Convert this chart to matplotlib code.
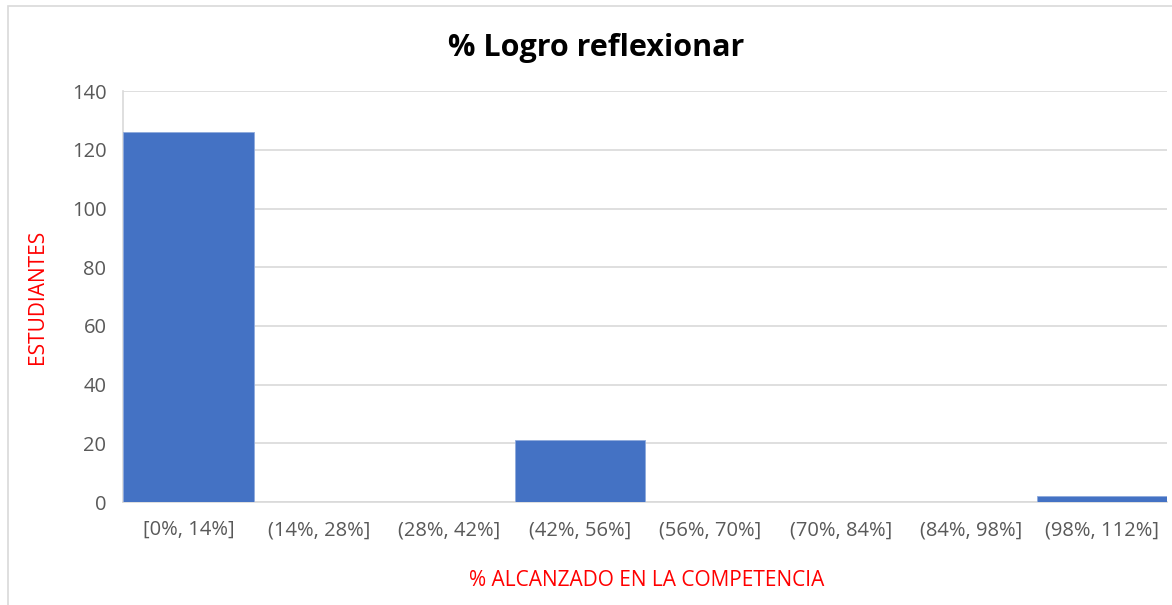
import matplotlib.pyplot as plt
from matplotlib.patches import Rectangle

# histogram data
categories = ["[0%, 14%]", "(14%, 28%]", "(28%, 42%]", "(42%, 56%]",
              "(56%, 70%]", "(70%, 84%]", "(84%, 98%]", "(98%, 112%]"]
students = [126, 0, 0, 21, 0, 0, 0, 2]
y_ticks = [0, 20, 40, 60, 80, 100, 120, 140]

plt.rcParams['font.family'] = ['Open Sans', 'DejaVu Sans']

fig = plt.figure(figsize=(11.72, 6.05), dpi=100)
ax = fig.add_axes([0.105, 0.170, 0.891, 0.6795])

x = range(len(categories))
ax.bar(x, students, width=1.0, color="#4472c4", edgecolor="#8faadc", linewidth=0.6, zorder=3)

ax.set_xlim(-0.5, len(categories) - 0.5)
ax.set_ylim(0, 140)
ax.set_yticks(y_ticks)
ax.set_xticks(list(x))
ax.set_xticklabels(categories)
ax.tick_params(axis="both", length=0, labelsize=14.5, colors="#595959")
ax.tick_params(axis="x", pad=13)
ax.tick_params(axis="y", pad=12)
ax.grid(axis="y", color="#d9d9d9", linewidth=1.2, zorder=0)

for side in ["top", "right"]:
    ax.spines[side].set_visible(False)
ax.spines["left"].set_color("#d9d9d9")
ax.spines["bottom"].set_color("#d9d9d9")
ax.spines["left"].set_linewidth(1.2)
ax.spines["bottom"].set_linewidth(1.2)

fig.text(0.509, 0.921, "% Logro reflexionar", ha="center", va="center",
         fontsize=22, fontweight="bold", color="black")
fig.text(0.032, 0.509, "ESTUDIANTES", ha="center", va="center", rotation=90,
         fontsize=15, color="red")
fig.text(0.552, 0.041, "% ALCANZADO EN LA COMPETENCIA", ha="center", va="center",
         fontsize=15, color="red")

# outer chart frame
fig.patches.append(Rectangle((0.007, -0.01), 1.0, 1.0, transform=fig.transFigure,
                             fill=False, edgecolor="#d9d9d9", linewidth=1.2))

fig.savefig("out.png", dpi=100, facecolor="white")
